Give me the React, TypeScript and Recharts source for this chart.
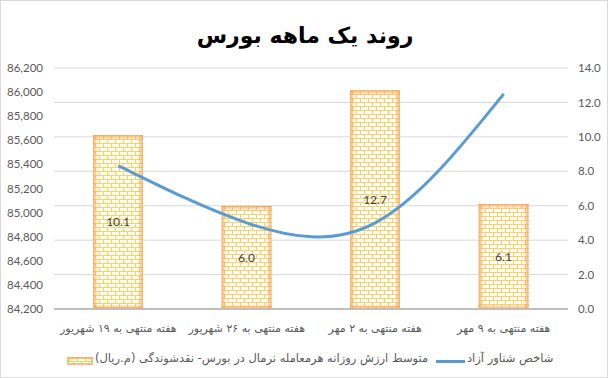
import { ComposedChart, Bar, Line, XAxis, YAxis, CartesianGrid, LabelList, Legend } from 'recharts';

const categories = [
    'هفته منتهی به ۱۹ شهریور',
    'هفته منتهی به ۲۶ شهریور',
    'هفته منتهی به ۲ مهر',
    'هفته منتهی به ۹ مهر'
];
const liquidity = [10.1, 6.0, 12.7, 6.1];
const floatIndex = [85390, 84915, 84915, 85985];
const leftTicks = [84200, 84400, 84600, 84800, 85000, 85200, 85400, 85600, 85800, 86000, 86200];
const rightTicks = [0, 2, 4, 6, 8, 10, 12, 14];

const barName = 'متوسط ارزش روزانه هرمعامله نرمال در بورس- نقدشوندگی (م.ریال)';
const lineName = 'شاخص شناور آزاد';

const data = categories.map((name, i) => ({ name, liquidity: liquidity[i], index: floatIndex[i] }));

const EDGE = '#F5A35B';
const BRICK = '#FFD15A';

// brick texture drawn as a path (row height 4, brick width 8)
const brickPath = (x: number, y: number, w: number, h: number) => {
    let d = '';
    const x0 = Math.round(x);
    const x1 = Math.round(x + w);
    const y0 = Math.round(y);
    const y1 = Math.round(y + h);
    for (let row = 0; y0 + row * 4 < y1; row++) {
        const yy = y0 + row * 4;
        const yEnd = Math.min(yy + 4, y1);
        d += `M${x0},${yy + 0.5}H${x1}`;
        const off = row % 2 === 0 ? 2 : 6;
        for (let bx = x0 + off; bx < x1; bx += 8) {
            d += `M${bx + 0.5},${yy}V${yEnd}`;
        }
    }
    return d;
};

const Bricks = ({ x, y, width, height }: any) => {
    const e = 5;
    return (
        <g>
            <rect x={x} y={y} width={width} height={height} fill="#fff" />
            <path d={brickPath(x, y, width, height)} stroke={BRICK} strokeWidth={1} fill="none" shapeRendering="crispEdges" />
            <rect x={x} y={y} width={e} height={height} fill="url(#edgeL)" />
            <rect x={x + width - e} y={y} width={e} height={height} fill="url(#edgeR)" />
            <rect x={x} y={y} width={width} height={e} fill="url(#edgeT)" />
            <rect x={x} y={y + height - e} width={width} height={e} fill="url(#edgeB)" />
        </g>
    );
};

const EdgeDefs = () => (
    <svg width={0} height={0} style={{ position: 'absolute' }}>
        <defs>
            <linearGradient id="edgeL" x1="0" y1="0" x2="1" y2="0">
                <stop offset="0%" stopColor={EDGE} stopOpacity={0.85} />
                <stop offset="100%" stopColor={EDGE} stopOpacity={0} />
            </linearGradient>
            <linearGradient id="edgeR" x1="1" y1="0" x2="0" y2="0">
                <stop offset="0%" stopColor={EDGE} stopOpacity={0.85} />
                <stop offset="100%" stopColor={EDGE} stopOpacity={0} />
            </linearGradient>
            <linearGradient id="edgeT" x1="0" y1="0" x2="0" y2="1">
                <stop offset="0%" stopColor={EDGE} stopOpacity={0.85} />
                <stop offset="100%" stopColor={EDGE} stopOpacity={0} />
            </linearGradient>
            <linearGradient id="edgeB" x1="0" y1="1" x2="0" y2="0">
                <stop offset="0%" stopColor={EDGE} stopOpacity={0.85} />
                <stop offset="100%" stopColor={EDGE} stopOpacity={0} />
            </linearGradient>
        </defs>
    </svg>
);

const CatTick = ({ x, y, payload }: any) => (
    <text x={x} y={y + 15} textAnchor="middle" direction="rtl" fontFamily="DejaVu Sans" fontSize={11} fill="#595959">
        {payload.value}
    </text>
);

const legendContent = () => (
    <div style={{ position: 'relative', height: 20, fontFamily: 'DejaVu Sans', fontSize: 11.5, color: '#595959' }}>
        <svg width={26} height={8} style={{ position: 'absolute', left: 66, top: 6 }}>
            <rect x={0} y={0} width={26} height={8} fill="#fff" />
            <path d={brickPath(0, 0, 26, 8)} stroke={BRICK} strokeWidth={1} fill="none" shapeRendering="crispEdges" />
            <rect x={1} y={1} width={24} height={6} fill="none" stroke={EDGE} strokeOpacity={0.7} strokeWidth={2} />
        </svg>
        <span dir="rtl" style={{ position: 'absolute', left: 94, top: 0, whiteSpace: 'nowrap' }}>{barName}</span>
        <div style={{ position: 'absolute', left: 435, top: 9, width: 29, height: 3, background: '#5B9BD5' }} />
        <span dir="rtl" style={{ position: 'absolute', left: 466, top: 0, whiteSpace: 'nowrap' }}>{lineName}</span>
    </div>
);

export default function App() {
    return (
        <div style={{ position: 'absolute', left: 0, top: 0, width: 608, height: 378, background: '#fff', border: '1px solid #D9D9D9', boxSizing: 'border-box' }}>
            <EdgeDefs />
            <div dir="rtl" style={{ position: 'absolute', left: 0, top: 22, width: 608, textAlign: 'center', fontFamily: 'DejaVu Sans', fontWeight: 'bold', fontSize: 22, color: '#000' }}>
                روند یک ماهه بورس
            </div>
            <ComposedChart
                width={606}
                height={376}
                data={data}
                margin={{ top: 67, right: 0, bottom: 14, left: 0 }}
                style={{ position: 'absolute', left: 0, top: 0 }}
            >
                <CartesianGrid yAxisId="right" vertical={false} stroke="#D9D9D9" />
                <XAxis
                    dataKey="name"
                    tick={<CatTick />}
                    tickLine={false}
                    axisLine={{ stroke: '#BFBFBF', strokeWidth: 2 }}
                    height={34}
                    interval={0}
                />
                <YAxis
                    yAxisId="left"
                    orientation="left"
                    width={53}
                    domain={[84200, 86200]}
                    ticks={leftTicks}
                    tickFormatter={(v) => v.toLocaleString('en-US')}
                    tickLine={false}
                    axisLine={false}
                    tickMargin={5}
                    tick={{ fill: '#595959', fontSize: 11.5, fontFamily: 'Lato' }}
                />
                <YAxis
                    yAxisId="right"
                    orientation="right"
                    width={39}
                    domain={[0, 14]}
                    ticks={rightTicks}
                    tickFormatter={(v) => v.toFixed(1)}
                    tickLine={false}
                    axisLine={false}
                    tickMargin={4}
                    tick={{ fill: '#595959', fontSize: 11.5, fontFamily: 'Lato' }}
                />
                <Legend verticalAlign="bottom" content={legendContent} wrapperStyle={{ left: 0, top: 350, width: 606 }} />
                <Bar yAxisId="right" dataKey="liquidity" name={barName} barSize={50} shape={<Bricks />} isAnimationActive={false}>
                    <LabelList dataKey="liquidity" position="center" formatter={(v: any) => Number(v).toFixed(1)} fill="#404040" fontSize={12} fontFamily="Lato" />
                </Bar>
                <Line yAxisId="left" dataKey="index" name={lineName} type="natural" stroke="#5B9BD5" strokeWidth={3} dot={false} isAnimationActive={false} />
            </ComposedChart>
        </div>
    );
}
